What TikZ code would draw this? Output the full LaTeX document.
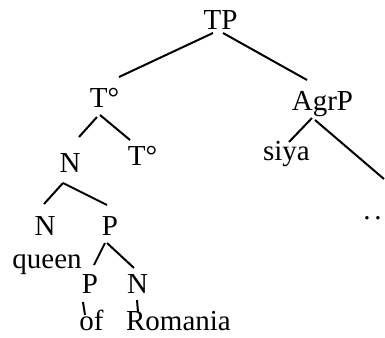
\documentclass[tikz,border=0pt]{standalone}
\usepackage{fontspec}
\setmainfont{Liberation Serif}
\usetikzlibrary{calc}
\begin{document}
\begin{tikzpicture}[x=1pt,y=-1pt,
  lbl/.style={inner sep=0pt,anchor=base,font=\fontsize{29}{30}\selectfont},
  edge/.style={line width=2pt}]
\useasboundingbox (0,0) rectangle (385,337);
\node[lbl] (TP) at (220.5,30) {TP};
\node[lbl] (T1) at (104.5,107) {T°};
\node[lbl] (AgrP) at (322.5,110) {AgrP};
\node[lbl] (N1) at (70,172) {N};
\node[lbl] (T2) at (142.5,165) {T°};
\node[lbl] (siya) at (286.5,160) {siya};
\node[lbl] (dots) at (372.5,219) {.\kern4pt.};
\coordinate (R) at (384,179);
\node[lbl] (N2) at (45,235) {N};
\node[lbl] (P1) at (110,235) {P};
\node[lbl] (queen) at (47,268) {queen};
\node[lbl] (P2) at (90,293) {P};
\node[lbl] (N3) at (137.5,293) {N};
\node[lbl] (of) at (91.5,330) {of};
\node[lbl] (Rom) at (178.5,330) {Romania};
\draw[edge] ($(TP.base)+(-7.5,3)$) -- ($(T1.base)+(14.5,-30)$);
\draw[edge] ($(TP.base)+(2.5,3)$) -- ($(AgrP.base)+(-15.5,-30)$);
\draw[edge] ($(T1.base)+(-7.5,10)$) -- ($(N1.base)+(9,-35)$);
\draw[edge] ($(T1.base)+(-4.5,8)$) -- ($(T2.base)+(-12.5,-25)$);
\draw[edge] ($(AgrP.base)+(-10.5,8)$) -- ($(siya.base)+(2.5,-18)$);
\draw[edge] ($(AgrP.base)+(-7.5,10)$) -- (R);
\draw[edge] ($(N1.base)+(-7,11)$) -- ($(N2.base)+(-1,-31)$);
\draw[edge] ($(N1.base)+(-7,11)$) -- ($(P1.base)+(-3,-30)$);
\draw[edge] ($(P1.base)+(-5,8)$) -- ($(P2.base)+(4,-28)$);
\draw[edge] ($(P1.base)+(-3,8)$) -- ($(N3.base)+(-3.5,-25)$);
\draw[edge] ($(P2.base)+(-7,9)$) -- ($(of.base)+(-6.5,-15)$);
\draw[edge] ($(N3.base)+(-0.5,7)$) -- ($(Rom.base)+(-40.5,-18)$);
\end{tikzpicture}
\end{document}
